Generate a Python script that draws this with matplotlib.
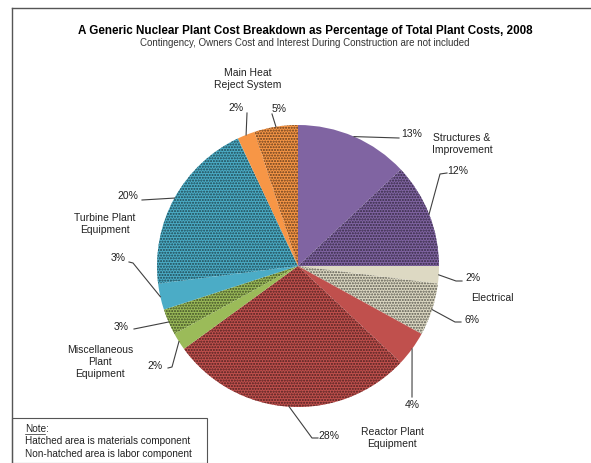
import numpy as np
import matplotlib
matplotlib.use("Agg")
import matplotlib.pyplot as plt
from matplotlib.patches import Rectangle
from matplotlib import colors as mcolors

plt.rcParams['font.family'] = ['Liberation Sans', 'DejaVu Sans']

# data: clockwise from 12 o'clock, labor / materials per category
categories = ['Structures & Improvement', 'Electrical', 'Reactor Plant Equipment',
              'Miscellaneous Plant Equipment', 'Turbine Plant Equipment',
              'Main Heat Reject System']
labor = [13, 2, 4, 2, 3, 2]
materials = [12, 6, 28, 3, 20, 5]
base_colors = ['#8064A2', '#DDD9C3', '#C0504D', '#9BBB59', '#4BACC6', '#F79646']

# slices go labor then materials for each category
values = [13, 12, 2, 6, 4, 28, 2, 3, 3, 20, 2, 5]
hatched = [False, True, False, True, False, True, False, True, False, True, False, True]
slice_cat = [0, 0, 1, 1, 2, 2, 3, 3, 4, 4, 5, 5]
pct_labels = ['%d%%' % v for v in values]

W, H = 591, 463
def P(x, y):
    return x, H - y

fig = plt.figure(figsize=(W / 100, H / 100), dpi=100)
ax = fig.add_axes([0, 0, 1, 1])

cx, cy, R = 298, 266, 141
cols = [base_colors[c] for c in slice_cat]
wedges, _ = ax.pie(values, colors=cols, startangle=90, counterclock=False,
                   center=P(cx, cy), radius=R, wedgeprops=dict(linewidth=0))
for w, h, c in zip(wedges, hatched, cols):
    if h:
        dark = np.array(mcolors.to_rgb(c)) * 0.4
        w.set_hatch('......')
        w.set_edgecolor(dark)
        w.set_linewidth(0)

ax.set_xlim(0, W)
ax.set_ylim(0, H)
ax.set_aspect('equal')
ax.axis('off')

# leader line paths (pixel coords) and percent label positions
leader_pts = [
    [(399, 138)],
    [(440, 174), (447, 173)],
    [(456, 281), (462, 281)],
    [(455, 322), (461, 322)],
    [(412, 397)],
    [(312, 438), (318, 438)],
    [(172, 367), (168, 368)],
    [(134, 329)],
    [(133, 263), (129, 262)],
    [(142, 200)],
    [(247, 113)],
    [(272, 114)],
]
pct_pos = [(412, 134), (458, 171), (473, 278), (472, 320), (412, 405), (329, 436),
           (155, 366), (121, 327), (118, 258), (128, 196), (236, 108), (279, 109)]

for w, pts, pos, lab in zip(wedges, leader_pts, pct_pos, pct_labels):
    mid = np.deg2rad((w.theta1 + w.theta2) / 2)
    x0, y0 = w.center[0] + R * np.cos(mid), w.center[1] + R * np.sin(mid)
    xs = [x0] + [p[0] for p in pts]
    ys = [y0] + [H - p[1] for p in pts]
    ax.plot(xs, ys, color='#404040', lw=0.8)
    ax.text(*P(*pos), lab, ha='center', va='center', fontsize=7.5, color='#222222')

cat_pos = [(462, 144), (492, 298), (392, 438), (100, 362), (105, 224), (248, 79)]
cat_text = ['Structures &\nImprovement', 'Electrical', 'Reactor Plant\nEquipment',
            'Miscellaneous\nPlant\nEquipment', 'Turbine Plant\nEquipment',
            'Main Heat\nReject System']
for pos, t in zip(cat_pos, cat_text):
    ax.text(*P(*pos), t, ha='center', va='center', fontsize=7.5, color='#222222',
            linespacing=1.25)

ax.text(*P(305, 31), 'A Generic Nuclear Plant Cost Breakdown as Percentage of Total Plant Costs, 2008',
        ha='center', va='center', fontsize=8.4, fontweight='bold')
ax.text(*P(305, 43), 'Contingency, Owners Cost and Interest During Construction are not included',
        ha='center', va='center', fontsize=7.0, color='#333333')

# outer frame (top and left only visible)
ax.plot([12, W], [H - 8, H - 8], color='#555555', lw=1, clip_on=False)
ax.plot([12, 12], [H - 8, 0], color='#555555', lw=1, clip_on=False)

# note box
ax.add_patch(Rectangle(P(12, 463), 195, 45, fill=False, edgecolor='#555555', lw=0.8))
ax.text(*P(25, 429), 'Note:', ha='left', va='center', fontsize=7.2, color='#222222')
ax.plot([25, 45], [H - 434, H - 434], color='#222222', lw=0.5)
ax.text(*P(25, 441), 'Hatched area is materials component', ha='left', va='center',
        fontsize=7.2, color='#222222')
ax.text(*P(25, 454), 'Non-hatched area is labor component', ha='left', va='center',
        fontsize=7.2, color='#222222')

fig.savefig('out.png', dpi=100)
